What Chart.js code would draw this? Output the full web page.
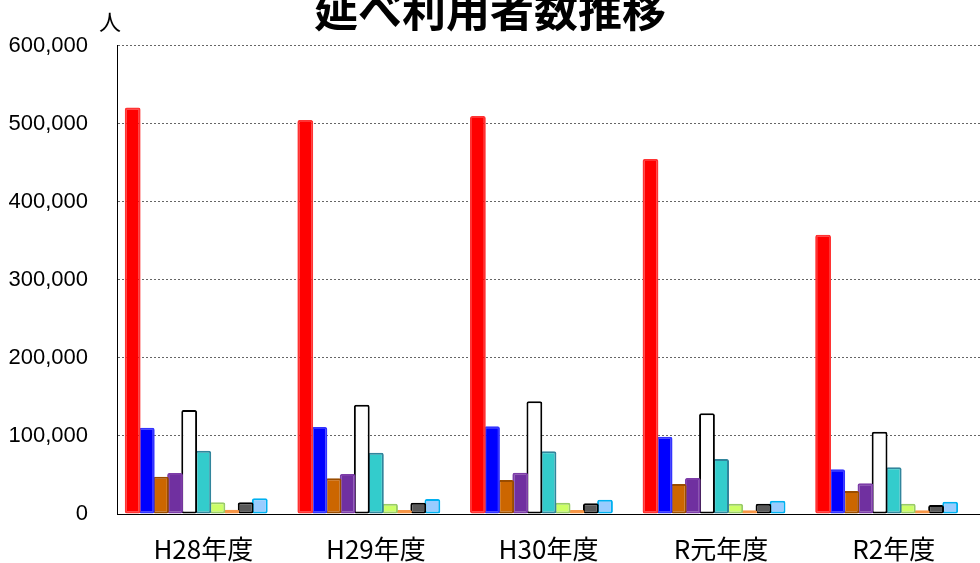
<!DOCTYPE html>
<html lang="ja">
<head>
<meta charset="utf-8">
<title>延べ利用者数推移</title>
<script src="https://cdn.jsdelivr.net/npm/chart.js@4.4.1/dist/chart.umd.min.js"></script>
<style>
    html, body { margin: 0; padding: 0; background: #fff; }
    #wrap { width: 980px; height: 563px; position: relative; }
</style>
</head>
<body>
<div id="wrap"><canvas id="usersChart"></canvas></div>
<script>
// categories (fiscal years)
const categories = ['H28年度', 'H29年度', 'H30年度', 'R元年度', 'R2年度'];

// series values (people), one array per facility
const seriesRed       = [521000, 505000, 510000, 455000, 358000];
const seriesBlue      = [110500, 111500, 112400, 99100, 57300];
const seriesOrange    = [47600, 45700, 43600, 38500, 29500];
const seriesPurple    = [52600, 51300, 53000, 46200, 39300];
const seriesWhite     = [133300, 140100, 144400, 129100, 105500];
const seriesTeal      = [81000, 78600, 80300, 70500, 59800];
const seriesLime      = [15000, 13200, 14500, 13200, 13200];
const seriesApricot   = [5500, 5100, 5100, 4700, 4700];
const seriesDarkGrey  = [15000, 14500, 13700, 13200, 11500];
const seriesSky       = [20100, 19200, 18400, 17100, 15800];
const seriesGrey      = [800, 0, 0, 0, 0];

// y axis ticks
const yTicks = [0, 100000, 200000, 300000, 400000, 500000, 600000];

const unitLabel = {
    id: 'unitLabel',
    afterDraw(chart) {
        const ctx = chart.ctx;
        ctx.save();
        ctx.fillStyle = '#000';
        ctx.font = '22px "Noto Sans CJK JP", sans-serif';
        ctx.textAlign = 'center';
        ctx.textBaseline = 'middle';
        ctx.fillText('人', chart.chartArea.left - 7, 22);
        ctx.restore();
    }
};

function ds(data, bg, border) {
    return {
        data: data,
        backgroundColor: bg,
        borderColor: border,
        borderWidth: 2,
        borderRadius: 2,
        borderSkipped: false
    };
}

new Chart(document.getElementById('usersChart'), {
    type: 'bar',
    data: {
        labels: categories,
        datasets: [
            ds(seriesRed, '#ff0000', '#ff3333'),
            ds(seriesBlue, '#0000ff', '#3333ff'),
            ds(seriesOrange, '#cc6600', '#994c00'),
            ds(seriesPurple, '#7030a0', '#7d3ca8'),
            ds(seriesWhite, '#ffffff', '#000000'),
            ds(seriesTeal, '#33cccc', '#31859c'),
            ds(seriesLime, '#ccff66', '#99cc66'),
            ds(seriesApricot, '#ff9933', '#f79646'),
            ds(seriesDarkGrey, '#595959', '#000000'),
            ds(seriesSky, '#99ccff', '#00b0f0'),
            ds(seriesGrey, '#808080', '#808080')
        ]
    },
    options: {
        responsive: true,
        maintainAspectRatio: false,
        animation: false,
        layout: { padding: { top: 0, right: 0, bottom: 0, left: 0 } },
        plugins: {
            legend: { display: false },
            tooltip: { enabled: false },
            title: {
                display: true,
                text: '延べ利用者数推移',
                color: '#000',
                font: { family: '"Noto Sans CJK JP", sans-serif', size: 44, weight: 'bold' },
                padding: { top: -16, bottom: 9 }
            }
        },
        datasets: {
            bar: { categoryPercentage: 0.9, barPercentage: 1.12 }
        },
        scales: {
            x: {
                grid: { display: false },
                border: { display: true, color: '#000', width: 1 },
                ticks: {
                    color: '#000',
                    padding: 12,
                    font: { family: '"Noto Sans CJK JP", sans-serif', size: 26 }
                },
                afterFit: function(scale) { scale.height = 49; }
            },
            y: {
                min: 0,
                max: 600000,
                afterBuildTicks: function(scale) {
                    scale.ticks = yTicks.map(function(v) { return { value: v }; });
                },
                grid: {
                    color: '#666666',
                    lineWidth: 1,
                    drawTicks: false
                },
                border: { display: true, color: '#000', width: 1, dash: [2, 2] },
                ticks: {
                    color: '#000',
                    padding: 29,
                    font: { family: '"Liberation Sans", Arial, sans-serif', size: 22 },
                    callback: function(value) {
                        return value.toLocaleString('en-US');
                    }
                },
                afterFit: function(scale) { scale.width = 117; }
            }
        }
    },
    plugins: [unitLabel]
});
</script>
</body>
</html>
